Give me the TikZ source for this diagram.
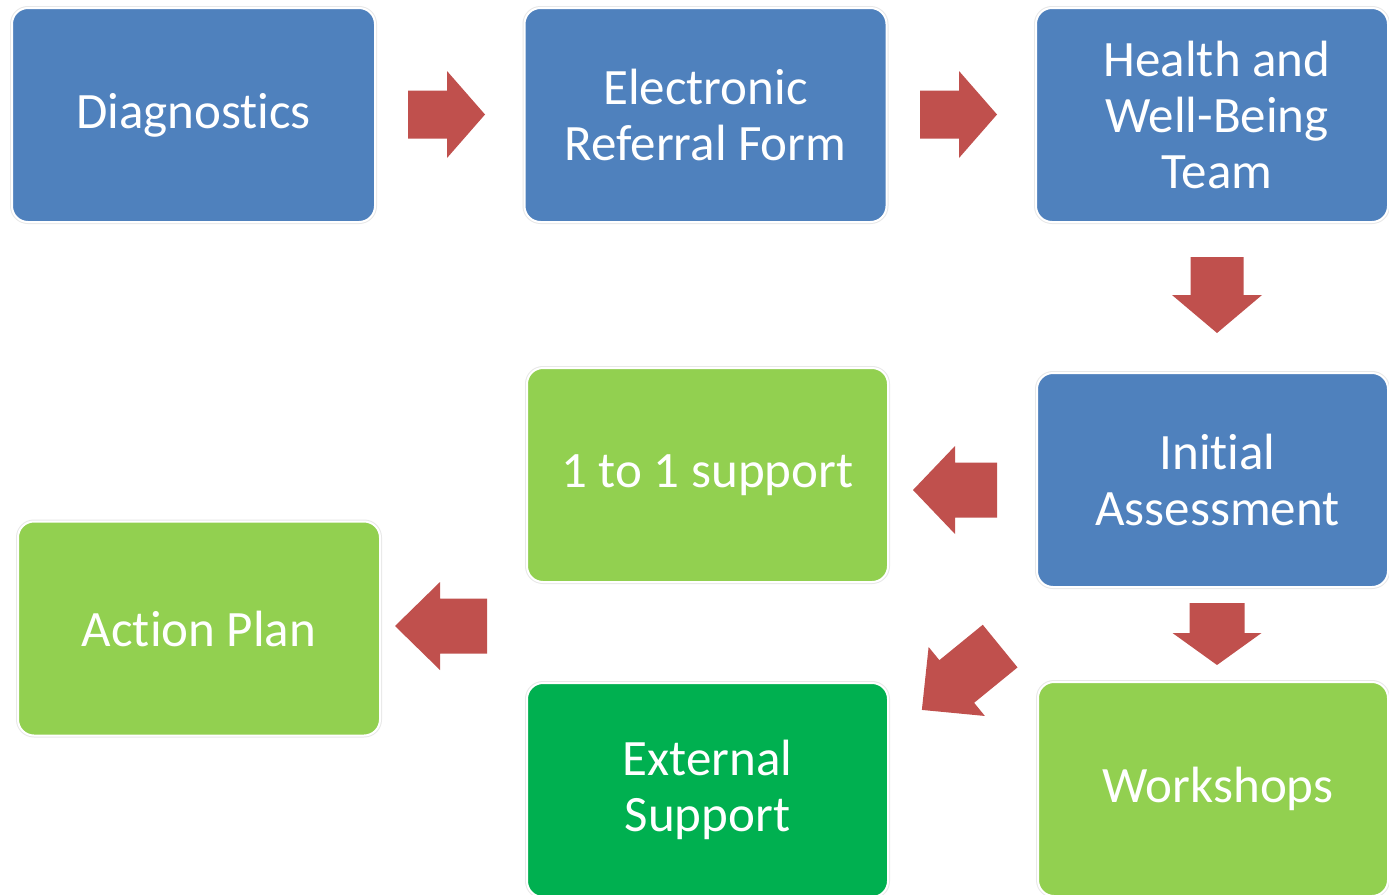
\documentclass[tikz,border=0pt]{standalone}
\usepackage{fontspec}
\setmainfont{Carlito}[Ligatures=NoCommon]
\newcommand\nolig{\kern0pt }
\definecolor{boxblue}{HTML}{4F81BD}
\definecolor{boxlgreen}{HTML}{92D050}
\definecolor{boxdgreen}{HTML}{00B050}
\definecolor{arrowred}{HTML}{C0504D}
\tikzset{
  boxtext/.style={inner sep=0pt, align=center, text=white,
    font=\fontsize{51}{56}\selectfont},
  flowbox/.style={rectangle, rounded corners=16pt, minimum width=#1, minimum height=214pt,
    boxtext, draw=white, line width=2pt, preaction={draw=black!9, line width=4pt}},
  bluebox/.style={flowbox=#1, fill=boxblue},
  lgreenbox/.style={flowbox=#1, fill=boxlgreen},
  dgreenbox/.style={flowbox=#1, fill=boxdgreen},
  blockfill/.style={fill=arrowred},
}
% \blkarrow{cx}{cy}{angle}{length}{shaft}{head}{headlength}
\newcommand\blkarrow[7]{%
  \fill[blockfill, shift={(#1,#2)}, rotate=#3]
    ({-#4/2},{#5/2}) -- ({#4/2-#7},{#5/2}) -- ({#4/2-#7},{#6/2}) -- ({#4/2},0)
    -- ({#4/2-#7},{-#6/2}) -- ({#4/2-#7},{-#5/2}) -- ({-#4/2},{-#5/2}) -- cycle;}
\begin{document}
\begin{tikzpicture}[x=1pt, y=-1pt]
\useasboundingbox (0,0) rectangle (1389,894);
\clip (0,0) rectangle (1389,894);
\fill[white] (0,0) rectangle (1389,894);
% boxes
\node[bluebox=363pt] (diag) at (193.5,115) {Diagnost\nolig ics};
\node[bluebox=362pt] (erf) at (705.5,115) {Electronic\\Referral Form};
\node[bluebox=352pt] (hwb) at (1212,115) {};
\node[boxtext] (hwbtext) at ([xshift=5pt]hwb.center) {Health and\\Well-Being\\Team};
\node[lgreenbox=361pt] (one) at (707.5,475) {1 to 1 support};
\node[bluebox=351pt] (init) at (1212.5,480) {};
\node[boxtext] (inittext) at ([xshift=5pt]init.center) {Init\nolig ial\\Assessment};
\node[lgreenbox=362pt] (act) at (199,628.5) {Act\nolig ion Plan};
\node[dgreenbox=361pt] (ext) at (707.5,790) {External\\Support};
\node[lgreenbox=350pt] (work) at (1213,789) {};
\node[boxtext] (worktext) at ([xshift=5pt]work.center) {Workshops};
% block arrows
\blkarrow{446.5}{114.5}{0}{77}{48}{87}{38}
\blkarrow{958.5}{114.5}{0}{77}{48}{87}{38}
\blkarrow{1217}{295}{-90}{76}{53}{90}{38}
\blkarrow{955}{490}{180}{84}{55}{88}{42}
\blkarrow{1217}{634}{-90}{62}{55}{89}{32}
\blkarrow{441}{626}{180}{92}{55}{88}{45}
\blkarrow{961}{678}{219.2}{101}{55}{89}{45}
\end{tikzpicture}
\end{document}
